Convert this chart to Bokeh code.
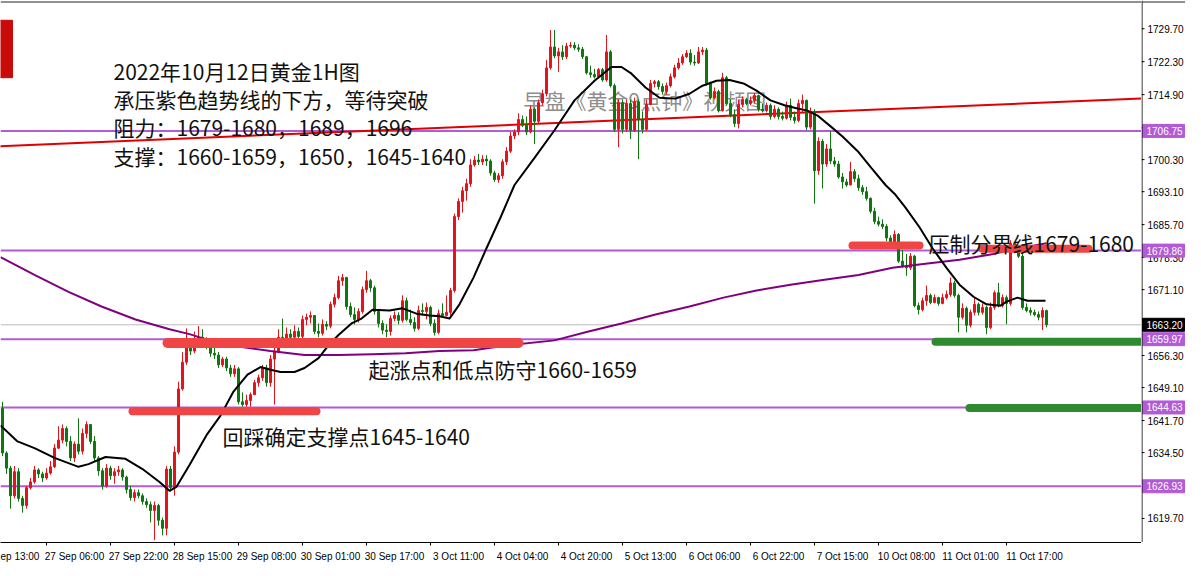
from bokeh.plotting import figure
from bokeh.layouts import row
from bokeh.models import Range1d, FixedTicker, Label, ColumnDataSource, Span
from bokeh.core.properties import value
from bokeh.embed import file_html
from bokeh.resources import INLINE

# ---------------- data (XAUUSD 1H) ----------------
first_open = 1644.4
close = [
    1634.4, 1631.0, 1624.8, 1630.2, 1624.2, 1622.6, 1626.6, 1627.9, 1630.6, 1629.7,
    1628.8, 1629.9, 1631.3, 1635.5, 1637.3, 1639.9, 1637.0, 1633.3, 1636.4, 1634.8,
    1638.8, 1640.8, 1637.0, 1633.3, 1630.4, 1627.0, 1631.0, 1629.3, 1630.2, 1630.6,
    1629.0, 1626.2, 1624.4, 1625.5, 1624.8, 1623.5, 1622.8, 1621.5, 1622.6, 1619.3,
    1617.5, 1630.8, 1626.6, 1634.6, 1648.8, 1654.8, 1658.6, 1657.3, 1659.3, 1660.4,
    1659.5, 1658.4, 1656.8, 1656.4, 1654.2, 1655.5, 1653.5, 1652.2, 1653.3, 1645.9,
    1645.3, 1646.2, 1647.5, 1650.2, 1651.3, 1653.5, 1650.2, 1655.5, 1657.3, 1660.4,
    1660.0, 1661.1, 1660.4, 1661.7, 1660.6, 1664.4, 1664.9, 1665.3, 1661.7, 1661.3,
    1663.3, 1662.9, 1667.8, 1669.3, 1673.1, 1673.8, 1667.3, 1665.5, 1664.4, 1666.2,
    1671.1, 1673.1, 1671.5, 1666.2, 1663.5, 1662.0, 1661.7, 1664.6, 1665.3, 1664.2,
    1668.6, 1664.4, 1663.7, 1662.4, 1666.4, 1666.2, 1667.1, 1663.5, 1661.5, 1665.7,
    1665.3, 1666.0, 1670.9, 1687.5, 1690.9, 1693.3, 1694.9, 1699.1, 1700.2, 1699.8,
    1700.4, 1700.0, 1697.3, 1695.8, 1696.7, 1699.8, 1702.2, 1705.6, 1706.5, 1709.3,
    1708.0, 1706.5, 1711.6, 1708.9, 1713.1, 1715.1, 1720.9, 1725.6, 1723.6, 1724.5,
    1723.4, 1725.8, 1726.0, 1725.4, 1725.1, 1723.4, 1719.8, 1719.4, 1718.9, 1720.5,
    1718.2, 1724.5, 1716.9, 1707.1, 1713.1, 1707.1, 1712.9, 1706.9, 1713.3, 1709.3,
    1707.1, 1712.7, 1717.4, 1717.8, 1716.7, 1715.6, 1716.9, 1718.9, 1720.9, 1722.0,
    1723.4, 1724.2, 1722.2, 1722.0, 1724.5, 1724.9, 1717.4, 1714.2, 1715.6, 1711.3,
    1718.7, 1712.9, 1710.4, 1708.4, 1712.7, 1713.8, 1712.9, 1713.6, 1714.7, 1711.6,
    1711.3, 1712.5, 1710.0, 1711.6, 1710.0, 1709.6, 1712.5, 1709.8, 1709.1, 1712.9,
    1713.6, 1707.6, 1711.1, 1697.8, 1704.4, 1699.3, 1702.7, 1700.0, 1699.3, 1696.4,
    1695.3, 1694.6, 1697.6, 1696.0, 1694.0, 1693.1, 1691.6, 1688.7, 1686.4, 1685.8,
    1685.3, 1682.7, 1681.8, 1683.5, 1677.5, 1676.4, 1676.0, 1678.6, 1667.5, 1666.6,
    1668.6, 1669.8, 1668.2, 1669.3, 1668.0, 1669.3, 1670.0, 1672.6, 1669.8, 1664.9,
    1666.9, 1663.1, 1666.0, 1667.8, 1666.0, 1667.1, 1662.6, 1667.1, 1670.4, 1667.5,
    1669.3, 1668.0, 1681.5, 1679.8, 1678.6, 1667.1, 1666.4, 1666.0, 1665.5, 1664.9,
    1666.4, 1663.2,
]
high = [
    1645.9, 1634.8, 1631.5, 1631.5, 1631.0, 1624.8, 1627.0, 1628.8, 1631.5, 1631.0,
    1630.2, 1631.0, 1632.6, 1636.4, 1640.4, 1640.8, 1640.4, 1638.2, 1637.0, 1642.2,
    1639.9, 1641.5, 1640.8, 1638.2, 1633.7, 1631.0, 1631.9, 1631.5, 1631.0, 1631.5,
    1631.0, 1629.3, 1627.0, 1626.2, 1626.2, 1625.3, 1624.2, 1623.5, 1623.5, 1623.0,
    1619.9, 1631.5, 1631.5, 1635.9, 1650.4, 1657.1, 1662.4, 1659.5, 1661.7, 1662.9,
    1662.2, 1660.4, 1659.1, 1658.2, 1657.1, 1656.0, 1656.0, 1654.2, 1654.2, 1653.7,
    1648.0, 1647.5, 1648.0, 1650.8, 1652.0, 1654.2, 1654.2, 1656.4, 1658.2, 1662.2,
    1664.6, 1662.6, 1662.2, 1663.1, 1662.6, 1665.3, 1665.7, 1666.2, 1665.3, 1663.5,
    1664.4, 1664.0, 1668.4, 1670.2, 1674.2, 1674.6, 1674.0, 1668.2, 1667.1, 1666.9,
    1671.8, 1675.3, 1673.5, 1672.0, 1666.6, 1664.2, 1663.3, 1665.3, 1666.2, 1666.0,
    1669.8, 1669.3, 1666.6, 1664.9, 1667.5, 1668.0, 1668.2, 1667.5, 1664.4, 1666.6,
    1668.0, 1669.8, 1671.5, 1688.2, 1691.6, 1694.2, 1696.0, 1700.4, 1701.1, 1701.6,
    1701.3, 1701.3, 1700.4, 1697.8, 1697.3, 1700.4, 1703.1, 1706.5, 1707.1, 1710.7,
    1710.2, 1710.0, 1712.5, 1712.0, 1713.8, 1716.0, 1722.7, 1729.4, 1729.4, 1725.4,
    1726.0, 1726.5, 1726.7, 1726.7, 1726.2, 1725.6, 1723.6, 1721.4, 1720.7, 1720.9,
    1720.9, 1728.3, 1724.9, 1717.4, 1713.8, 1713.8, 1713.8, 1713.8, 1714.2, 1713.8,
    1711.1, 1713.8, 1718.2, 1718.2, 1718.2, 1717.4, 1717.6, 1719.6, 1721.6, 1723.1,
    1724.0, 1724.9, 1725.1, 1723.8, 1725.6, 1725.6, 1725.4, 1717.8, 1716.5, 1716.0,
    1719.8, 1719.1, 1713.8, 1711.6, 1713.8, 1714.5, 1714.2, 1714.5, 1715.3, 1714.9,
    1712.9, 1713.1, 1712.9, 1712.5, 1712.0, 1711.1, 1713.3, 1714.0, 1711.1, 1713.8,
    1714.9, 1713.8, 1712.0, 1711.6, 1705.3, 1704.9, 1703.8, 1706.7, 1700.9, 1700.0,
    1697.3, 1696.0, 1699.8, 1698.2, 1696.9, 1694.6, 1694.2, 1691.8, 1689.5, 1687.5,
    1686.9, 1685.8, 1683.3, 1684.4, 1683.8, 1680.0, 1679.1, 1679.3, 1678.9, 1668.2,
    1669.3, 1672.0, 1670.2, 1670.0, 1669.5, 1670.2, 1670.9, 1673.8, 1673.1, 1670.2,
    1668.0, 1667.3, 1666.6, 1669.3, 1668.2, 1668.0, 1667.5, 1668.2, 1670.9, 1672.6,
    1670.0, 1669.8, 1682.2, 1681.5, 1680.4, 1679.1, 1668.0, 1667.1, 1666.6, 1666.2,
    1667.1, 1666.6,
]
low = [
    1633.7, 1629.7, 1621.9, 1624.2, 1623.5, 1621.0, 1621.9, 1626.2, 1627.5, 1628.8,
    1627.9, 1628.4, 1629.5, 1631.0, 1635.3, 1636.6, 1635.9, 1632.6, 1632.4, 1634.1,
    1634.1, 1637.7, 1636.4, 1632.4, 1629.3, 1626.2, 1626.6, 1628.4, 1627.5, 1629.3,
    1628.2, 1625.3, 1623.7, 1623.5, 1624.2, 1622.8, 1622.1, 1618.8, 1614.8, 1618.1,
    1615.9, 1615.9, 1625.7, 1624.8, 1634.1, 1648.4, 1654.2, 1656.4, 1656.8, 1658.6,
    1659.1, 1657.7, 1656.0, 1655.5, 1653.5, 1653.7, 1652.8, 1651.5, 1651.5, 1645.3,
    1644.8, 1644.8, 1644.8, 1647.5, 1649.3, 1650.6, 1649.3, 1649.3, 1645.3, 1656.8,
    1659.1, 1659.5, 1659.1, 1660.0, 1659.5, 1660.2, 1663.1, 1663.5, 1661.1, 1660.4,
    1660.8, 1662.0, 1662.4, 1667.1, 1668.9, 1672.0, 1666.6, 1664.9, 1663.3, 1663.7,
    1665.7, 1670.4, 1670.6, 1665.5, 1662.6, 1661.1, 1660.4, 1660.8, 1664.0, 1663.3,
    1663.7, 1664.0, 1663.1, 1661.7, 1662.0, 1665.3, 1664.4, 1662.9, 1660.8, 1661.1,
    1664.9, 1665.1, 1665.3, 1670.4, 1686.7, 1688.4, 1691.1, 1694.2, 1698.7, 1699.1,
    1699.1, 1698.9, 1696.7, 1695.3, 1695.1, 1696.0, 1699.1, 1701.8, 1704.9, 1705.8,
    1707.6, 1705.8, 1706.2, 1703.8, 1708.4, 1712.5, 1714.5, 1720.5, 1723.1, 1720.0,
    1722.7, 1722.9, 1725.4, 1724.9, 1724.5, 1722.9, 1719.4, 1718.7, 1718.5, 1718.5,
    1717.8, 1717.8, 1716.5, 1706.5, 1703.1, 1706.2, 1706.5, 1704.9, 1706.5, 1700.4,
    1706.2, 1706.7, 1712.5, 1716.5, 1716.0, 1714.9, 1714.9, 1716.5, 1718.5, 1720.5,
    1721.6, 1723.1, 1721.6, 1721.4, 1721.8, 1723.8, 1716.9, 1713.8, 1713.8, 1710.9,
    1711.1, 1712.5, 1709.8, 1707.6, 1707.3, 1712.0, 1712.5, 1712.5, 1712.9, 1711.1,
    1710.9, 1710.9, 1709.3, 1709.6, 1709.3, 1709.1, 1709.3, 1709.1, 1708.4, 1708.7,
    1710.9, 1706.9, 1707.1, 1690.4, 1696.9, 1693.8, 1698.7, 1699.3, 1698.7, 1696.0,
    1693.8, 1694.2, 1694.6, 1695.3, 1693.3, 1692.4, 1691.1, 1688.2, 1685.8, 1685.3,
    1684.7, 1682.0, 1681.1, 1681.3, 1677.1, 1676.0, 1674.2, 1675.5, 1667.1, 1665.5,
    1666.2, 1667.5, 1667.8, 1668.0, 1667.5, 1667.8, 1668.9, 1669.5, 1669.3, 1661.5,
    1664.4, 1661.5, 1662.6, 1665.3, 1665.3, 1665.5, 1661.1, 1662.2, 1666.6, 1667.1,
    1667.1, 1663.3, 1667.5, 1679.3, 1678.2, 1666.6, 1666.0, 1665.3, 1665.1, 1664.2,
    1662.0, 1662.6,
]

# black moving average: bar index, price
ma_fast_idx = [-0.5, 3.75, 8, 13, 19, 21.5, 25.75, 30.75, 35, 39.25, 41.75, 43.5, 46.75, 51,
               54.5, 57.75, 61.25, 64.5, 67, 69.5, 73, 75.5, 79, 81.5, 84, 87.25, 89.75, 92.5,
               96.75, 100, 103.5, 106.75, 109.25, 111.75, 114.25, 117.75, 121, 124.5, 128, 133,
               138, 143, 148, 152.25, 154.75, 157.25, 160.75, 164.25, 168.25, 171.75, 175,
               178.5, 181.75, 185.25, 188.5, 192, 195.5, 198.75, 201.25, 203.75, 207.25, 210,
               214, 217.25, 220.75, 223.25, 225.75, 229.25, 232.5, 236, 239.25, 242.75, 246,
               249.5, 251, 253.75, 256.25, 260.75]
ma_fast_val = [1640.6, 1637.0, 1635.5, 1633.3, 1631.3, 1631.9, 1633.5, 1633.1, 1630.8, 1627.9,
               1625.9, 1626.8, 1631.7, 1638.4, 1642.8, 1648.2, 1652.0, 1653.7, 1653.1, 1652.6,
               1652.6, 1653.5, 1655.7, 1658.6, 1660.9, 1663.5, 1664.6, 1666.6, 1666.4, 1666.9,
               1665.7, 1665.3, 1665.1, 1664.6, 1667.8, 1673.8, 1680.4, 1687.3, 1694.6, 1700.7,
               1706.9, 1713.6, 1718.0, 1721.1, 1721.1, 1719.6, 1716.5, 1714.2, 1714.0, 1715.1,
               1716.9, 1718.0, 1718.2, 1717.4, 1715.8, 1713.6, 1712.5, 1711.8, 1711.3, 1710.2,
               1707.6, 1705.5, 1702.0, 1698.4, 1694.6, 1692.4, 1689.5, 1685.1, 1680.4, 1676.0,
               1672.2, 1669.5, 1667.8, 1667.5, 1668.4, 1669.3, 1668.6, 1668.6]

# purple long moving average
ma_slow_idx = [-0.5, 8, 16.5, 24.75, 33.25, 41.75, 46.75, 51.75, 58.5, 67, 75.5, 84, 92.5,
               100.75, 109.25, 117.75, 126.25, 138, 146.5, 154.75, 163.25, 171.75, 180.25,
               188.5, 197, 205.5, 214, 222.5, 230.75, 239.25, 247.75, 251, 261]
ma_slow_val = [1678.4, 1674.4, 1670.6, 1667.3, 1664.4, 1662.2, 1661.1, 1659.7, 1658.4, 1657.3,
               1656.4, 1656.4, 1656.6, 1656.8, 1657.3, 1657.5, 1658.6, 1659.7, 1661.7, 1663.5,
               1665.5, 1667.3, 1669.3, 1670.9, 1672.2, 1673.3, 1674.4, 1676.0, 1676.9, 1677.8,
               1679.1, 1679.8, 1681.5]

# red trend line
trend_idx = [-1, 300]
trend_val = [1703.3, 1714.6]

# horizontal levels
levels = [1706.75, 1679.86, 1659.97, 1644.63, 1626.93]
bid = 1663.20

# hand-drawn highlight strokes: start bar, end bar, price
red_zone_x0 = [41.25, 32.5, 212.5, 245.0]
red_zone_x1 = [129.0, 78.5, 229.25, 271.5]
red_zone_y = [1659.1, 1643.8, 1681.0, 1680.3]
red_zone_w = [10, 8, 8, 8]
green_zone_x0 = [233.25, 241.75]
green_zone_x1 = [300.0, 300.0]
green_zone_y = [1659.4, 1644.5]

# axes
time_tick_idx = [-5, 11, 27, 43, 59, 75, 91, 107, 123, 139, 155, 171, 187, 203, 219, 235, 251]
time_tick_labels = ["ep 13:00", "27 Sep 06:00", "27 Sep 22:00", "28 Sep 15:00", "29 Sep 08:00",
                    "30 Sep 01:00", "30 Sep 17:00", "3 Oct 11:00", "4 Oct 04:00", "4 Oct 20:00",
                    "5 Oct 13:00", "6 Oct 06:00", "6 Oct 22:00", "7 Oct 15:00", "10 Oct 08:00",
                    "11 Oct 01:00", "11 Oct 17:00"]
price_ticks = [1729.70, 1722.30, 1714.90, 1707.50, 1700.30, 1693.10, 1685.70, 1678.30, 1671.10,
               1656.30, 1649.10, 1641.70, 1634.50, 1619.70]

notes = ["2022年10月12日黄金1H图", "承压紫色趋势线的下方，等待突破",
         "阻力：1679-1680，1689，1696", "支撑：1660-1659，1650，1645-1640"]

# ---------------- figure ----------------
FW, FH, AW = 1141, 542, 44
X0, X1 = -0.5, -0.5 + FW / 4.0
Y0, Y1 = 1614.3, 1736.04
FONT_CJK = "Noto Sans CJK SC"
FONT_AX = "Liberation Sans"
RED = "#E3141C"
GREEN = "#10760F"
LEVEL = "#B25BD6"

yr = Range1d(Y0, Y1)
p = figure(frame_width=FW, frame_height=FH, output_backend="svg", toolbar_location=None,
           x_range=Range1d(X0, X1), y_range=yr, y_axis_location=None,
           min_border_left=0, min_border_top=0, min_border_bottom=0, min_border_right=0)
p.background_fill_color = "white"
p.border_fill_color = "white"
p.outline_line_color = None
p.grid.visible = False

# level lines under everything
for lv in levels:
    p.add_layout(Span(location=lv, dimension="width", line_color=LEVEL, line_width=2, level="underlay"))
p.add_layout(Span(location=bid, dimension="width", line_color="#BDBDBD", line_width=1, level="underlay"))
p.add_layout(Span(location=1735.7, dimension="width", line_color="#222222", line_width=1))

# gray overlay title behind candles
p.text(x=[130.25], y=[1713.6], text=["早盘《黄金9点钟》视频图"], text_font=value(FONT_CJK),
       text_font_size="21px", text_color="#6E6E6E", text_alpha=0.8, text_baseline="alphabetic")

# trend line
p.line(trend_idx, trend_val, line_color="#E00000", line_width=2)

# candles
opens = [first_open] + close[:-1]
n = len(close)
idx = list(range(n))
hi = [max(h, o, c) for h, o, c in zip(high, opens, close)]
lo = [min(l, o, c) for l, o, c in zip(low, opens, close)]
src = ColumnDataSource(dict(
    x=idx, o=opens, c=close, h=hi, l=lo,
    top=[max(o, c) for o, c in zip(opens, close)],
    bottom=[min(o, c) for o, c in zip(opens, close)],
    color=[RED if c >= o else GREEN for o, c in zip(opens, close)],
))
p.segment(x0="x", y0="l", x1="x", y1="h", source=src, line_color="color", line_width=1)
p.vbar(x="x", width=0.5, top="top", bottom="bottom", source=src, fill_color="color", line_color="color", line_width=1)

# moving averages
p.line(ma_slow_idx, ma_slow_val, line_color="#80007F", line_width=2)
p.line(ma_fast_idx, ma_fast_val, line_color="#000000", line_width=2)

# highlight strokes
p.segment(x0=red_zone_x0, y0=red_zone_y, x1=red_zone_x1, y1=red_zone_y, line_color="#EF4545",
          line_width=red_zone_w, line_cap="round")
p.segment(x0=green_zone_x0, y0=green_zone_y, x1=green_zone_x1, y1=green_zone_y, line_color="#2E8A2E",
          line_width=8, line_cap="round")

# one-click trading panel sliver at the left edge
p.quad(left=[-2], right=[2.5], top=[1731.6], bottom=[1718.7], fill_color="#C80A0A", line_color="#C80A0A")

# annotation texts
note_y = [1720.2, 1714.0, 1707.6, 1701.1]
for t, yy in zip(notes, note_y):
    p.add_layout(Label(x=27.75, y=yy, text=t, text_font=FONT_CJK, text_font_size="21px",
                       text_color="#111111", text_baseline="alphabetic"))
for t, xx, yy in [("起涨点和低点防守1660-1659", 91.5, 1653.3),
                  ("回踩确定支撑点1645-1640", 55.0, 1638.2),
                  ("压制分界线1679-1680", 231.5, 1681.5)]:
    p.add_layout(Label(x=xx, y=yy, text=t, text_font=FONT_CJK, text_font_size="21px",
                       text_color="#111111", text_baseline="alphabetic"))

# time axis
xa = p.xaxis[0]
centers = [i + 7 for i in time_tick_idx]
centers[0] = 3
xa.ticker = FixedTicker(ticks=centers, minor_ticks=time_tick_idx)
xa.major_label_overrides = {c: lab for c, lab in zip(centers, time_tick_labels)}
xa.major_tick_line_color = None
xa.minor_tick_line_color = "black"
xa.minor_tick_in = 0
xa.minor_tick_out = 3
xa.major_label_standoff = 2
xa.major_label_text_font = FONT_AX
xa.major_label_text_font_size = "10px"
xa.major_label_text_color = "black"
xa.axis_line_color = "black"

# ---------------- price scale strip (shares the y range) ----------------
s = figure(frame_width=AW, frame_height=FH, output_backend="svg", toolbar_location=None,
           x_range=Range1d(0, AW), y_range=yr, x_axis_location=None, y_axis_location=None,
           min_border_left=0, min_border_top=0, min_border_bottom=0, min_border_right=0)
s.background_fill_color = "white"
s.border_fill_color = "white"
s.outline_line_color = None
s.grid.visible = False
s.add_layout(Span(location=0.5, dimension="height", line_color="black", line_width=1))
s.add_layout(Span(location=1735.7, dimension="width", line_color="#222222", line_width=1))
s.segment(x0=0, x1=3, y0=price_ticks, y1=price_ticks, line_color="black", line_width=1)
s.text(x=6, y=price_ticks, text=[f"{t:.2f}" for t in price_ticks], text_font=value(FONT_AX),
       text_font_size="10px", text_color="black", text_baseline="middle")
s.rect(x=22, y=levels, width=42, height=13, height_units="screen", fill_color=LEVEL, line_color=LEVEL)
s.text(x=5, y=levels, text=[f"{lv:.2f}" for lv in levels], text_font=value(FONT_AX),
       text_font_size="10px", text_color="white", text_baseline="middle")
s.rect(x=22, y=[bid], width=42, height=13, height_units="screen", fill_color="black", line_color="black")
s.text(x=5, y=[bid], text=[f"{bid:.2f}"], text_font=value(FONT_AX),
       text_font_size="10px", text_color="white", text_baseline="middle")

layout = row(p, s, spacing=0)
open("out.html", "w").write(file_html(layout, INLINE))
